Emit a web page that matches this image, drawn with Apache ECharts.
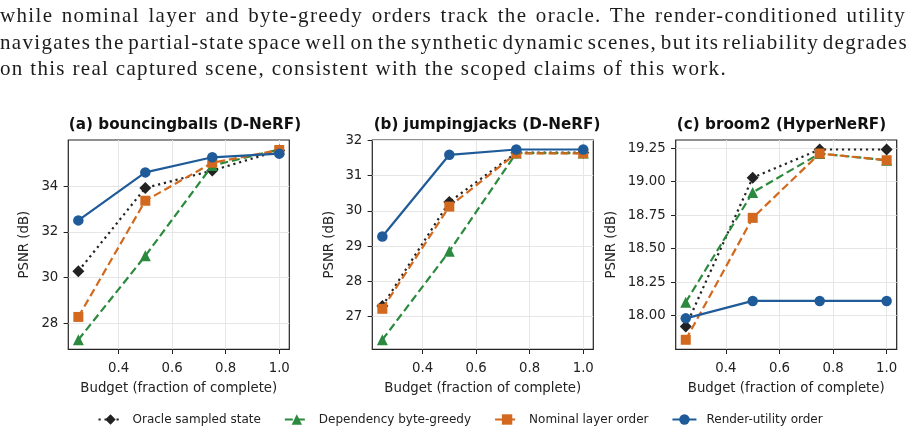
<!DOCTYPE html>
<html>
<head>
<meta charset="utf-8">
<title>PSNR vs budget</title>
<script src="https://cdn.jsdelivr.net/npm/echarts@6.0.0/dist/echarts.min.js"></script>
<style>
  html, body { margin: 0; padding: 0; background: #fff; }
  #wrap { position: relative; width: 916px; height: 433px; overflow: hidden; }
  #chart { position: absolute; left: 0; top: 0; width: 916px; height: 433px; }
  #para { position: absolute; left: 0; top: 0; width: 916px; height: 90px; z-index: 2; }
  .pline {
    position: absolute; left: 0; white-space: nowrap;
    font-family: "Liberation Serif", serif; color: #1c1c1c; line-height: 27px;
  }
</style>
</head>
<body>
<div id="wrap">
  <div id="chart"></div>
  <div id="para"></div>
</div>
<script>
  // paragraph above the figure
  const paragraphLines = [
    'while nominal layer and byte-greedy orders track the oracle.  The render-conditioned utility',
    'navigates the partial-state space well on the synthetic dynamic scenes, but its reliability degrades',
    'on this real captured scene, consistent with the scoped claims of this work.'
  ]

  const budget = [0.25, 0.5, 0.75, 1.0]
  const xTicks = [0.4, 0.6, 0.8, 1.0]

  const panelTitles = ['(a) bouncingballs (D-NeRF)', '(b) jumpingjacks (D-NeRF)', '(c) broom2 (HyperNeRF)']
  const seriesNames = ['Oracle sampled state', 'Dependency byte-greedy', 'Nominal layer order', 'Render-utility order']

  // (a) bouncingballs
  const oracleA = [30.28, 33.92, 34.68, 35.56]
  const greedyA = [27.28, 30.95, 34.9, 35.6]
  const nominalA = [28.28, 33.36, 35.02, 35.58]
  const renderA = [32.5, 34.6, 35.26, 35.42]
  const yTicksA = [28, 30, 32, 34]

  // (b) jumpingjacks
  const oracleB = [27.3, 30.25, 31.65, 31.65]
  const greedyB = [26.34, 28.85, 31.64, 31.64]
  const nominalB = [27.22, 30.12, 31.63, 31.63]
  const renderB = [29.27, 31.59, 31.74, 31.74]
  const yTicksB = [27, 28, 29, 30, 31, 32]

  // (c) broom2
  const oracleC = [17.92, 19.03, 19.24, 19.24]
  const greedyC = [18.1, 18.92, 19.21, 19.16]
  const nominalC = [17.82, 18.73, 19.21, 19.16]
  const renderC = [17.98, 18.11, 18.11, 18.11]
  const yTicksC = [18.0, 18.25, 18.5, 18.75, 19.0, 19.25]

  const panels = [
    { title: panelTitles[0], data: [oracleA, greedyA, nominalA, renderA], ticks: yTicksA, digits: 0 },
    { title: panelTitles[1], data: [oracleB, greedyB, nominalB, renderB], ticks: yTicksB, digits: 0 },
    { title: panelTitles[2], data: [oracleC, greedyC, nominalC, renderC], ticks: yTicksC, digits: 2 }
  ]

  const styles = [
    { color: '#222222', symbol: 'diamond', size: 12, type: [2.2, 3.8] },
    { color: '#2b8a3e', symbol: 'triangle', size: 11, type: [8, 4] },
    { color: '#d2691e', symbol: 'rect', size: 10, type: [8, 4] },
    { color: '#1f5b99', symbol: 'circle', size: 10.5, type: 'solid' }
  ]

  const gridLeft = [68.3, 372.3, 675.7]
  const titleCenter = [180, 482, 776.5]
  const yNameGap = [37, 36, 57.5]
  const font = 'DejaVu Sans'
  const ink = '#222'

  // matplotlib style 5% margins around the data
  function padRange(values) {
    const lo = Math.min(...values)
    const hi = Math.max(...values)
    const m = (hi - lo) * 0.05
    return [lo - m, hi + m]
  }
  const xRange = padRange(budget)

  const grid = [], xAxis = [], yAxis = [], series = [], title = []
  panels.forEach((p, i) => {
    grid.push({
      left: gridLeft[i], top: 140, width: 221, height: 209.3,
      show: true, borderColor: '#222', borderWidth: 1.2, backgroundColor: 'transparent'
    })
    title.push({
      text: p.title, left: titleCenter[i], top: 112.5, textAlign: 'center',
      textStyle: { fontFamily: font, fontWeight: 'bold', fontSize: 15.2, color: '#111' }
    })
    xAxis.push({
      type: 'value', gridIndex: i, min: xRange[0], max: xRange[1],
      name: 'Budget (fraction of complete)', nameLocation: 'middle', nameGap: 33,
      nameTextStyle: { fontFamily: font, fontSize: 13.3, color: ink },
      axisLine: { show: false },
      axisTick: { show: true, inside: false, length: 4.7, customValues: xTicks, lineStyle: { color: ink, width: 1 } },
      axisLabel: {
        customValues: xTicks, margin: 13, fontFamily: font, fontSize: 13.3, color: ink,
        formatter: v => v.toFixed(1)
      },
      splitLine: { show: true, lineStyle: { color: '#e6e6e6', width: 1 } }
    })
    const yr = padRange([].concat(...p.data))
    yAxis.push({
      type: 'value', gridIndex: i, min: yr[0], max: yr[1],
      name: 'PSNR (dB)', nameLocation: 'middle', nameGap: yNameGap[i],
      nameTextStyle: { fontFamily: font, fontSize: 13.3, color: ink },
      axisLine: { show: false },
      axisTick: { show: true, inside: false, length: 4.7, customValues: p.ticks, lineStyle: { color: ink, width: 1 } },
      axisLabel: {
        customValues: p.ticks, margin: 10, fontFamily: font, fontSize: 13.3, color: ink,
        formatter: v => v.toFixed(p.digits)
      },
      splitLine: { show: true, lineStyle: { color: '#e6e6e6', width: 1 } }
    })
    p.data.forEach((vals, k) => {
      const s = styles[k]
      series.push({
        type: 'line', name: seriesNames[k], xAxisIndex: i, yAxisIndex: i,
        data: budget.map((b, j) => [b, vals[j]]),
        symbol: s.symbol, symbolSize: s.size, showSymbol: true,
        lineStyle: { color: s.color, width: 2.2, type: s.type },
        itemStyle: { color: s.color },
        z: 2 + k, clip: false,
        emphasis: { disabled: true }
      })
    })
  })

  const chart = echarts.init(document.getElementById('chart'), null, { renderer: 'canvas' })
  chart.setOption({
    animation: false,
    backgroundColor: '#fff',
    title: title,
    grid: grid,
    xAxis: xAxis,
    yAxis: yAxis,
    legend: {
      data: seriesNames, left: 92.5, top: 408.5, itemWidth: 24, itemHeight: 13, itemGap: 23,
      textStyle: { fontFamily: font, fontSize: 12, color: ink, padding: [0, 0, 0, 5] },
      selectedMode: false
    },
    series: series
  })

  // paragraph: letter-spacing so the last line matches, justify first two lines
  const para = document.getElementById('para')
  const baselines = [22.7, 49.3, 76]
  const fs = 21
  const els = paragraphLines.map(t => {
    const d = document.createElement('div')
    d.className = 'pline'
    d.textContent = t
    d.style.fontSize = fs + 'px'
    para.appendChild(d)
    return d
  })
  const ls = (727 - els[2].getBoundingClientRect().width) / paragraphLines[2].length
  els.forEach((d, i) => {
    d.style.letterSpacing = ls + 'px'
    d.style.top = (baselines[i] - ((27 - 1.107 * fs) / 2 + 0.891 * fs)) + 'px'
  })
  els.forEach((d, i) => {
    if (i < 2) {
      const w = d.getBoundingClientRect().width
      const gaps = (paragraphLines[i].match(/ /g) || []).length
      d.style.wordSpacing = ((908 - w) / gaps) + 'px'
    }
  })
</script>
</body>
</html>
